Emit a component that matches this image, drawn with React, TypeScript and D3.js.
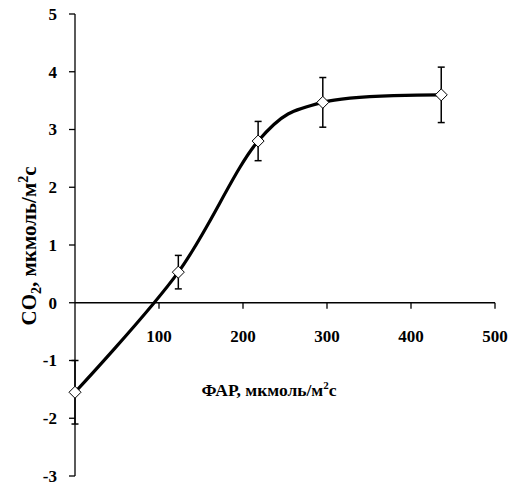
import React from "react";
import * as d3 from "d3";

const parValues = [0, 123, 218, 295, 436];
const co2Values = [-1.55, 0.53, 2.8, 3.47, 3.6];
const errValues = [0.55, 0.29, 0.34, 0.43, 0.48];
const xTicks = [100, 200, 300, 400, 500];
const yTicks = [-3, -2, -1, 0, 1, 2, 3, 4, 5];

const W = 520;
const H = 488;
const FONT = "'Liberation Serif', 'Times New Roman', serif";

export default function App() {
  const x = d3.scaleLinear().domain([0, 500]).range([75, 495]);
  const y = d3.scaleLinear().domain([-3, 5]).range([476, 14]);
  const pts: [number, number][] = parValues.map((v, i) => [x(v), y(co2Values[i])]);
  const line = d3.line().curve(d3.curveCardinal.tension(0));
  const path = line(pts) || "";
  const x0 = x(0);
  const y0 = y(0);
  const dm = 6;
  return (
    <svg
      width={W}
      height={H}
      style={{ position: "absolute", left: 0, top: 0, background: "#fff" }}
      fontFamily={FONT}
      fontWeight="bold"
    >
      <rect x={0} y={0} width={W} height={H} fill="#fff" />
      {/* y axis */}
      <line x1={x0} x2={x0} y1={y(5)} y2={y(-3)} stroke="#000" strokeWidth={1.3} />
      {yTicks.map((t) => (
        <g key={"yt" + t}>
          <line x1={x0 - 6} x2={x0} y1={y(t)} y2={y(t)} stroke="#000" strokeWidth={1.3} />
          <text x={57} y={y(t)} dy="0.35em" textAnchor="end" fontSize={17}>
            {t < 0 ? "-" + Math.abs(t) : String(t)}
          </text>
        </g>
      ))}
      {/* x axis */}
      <line x1={x0} x2={x(500)} y1={y0} y2={y0} stroke="#000" strokeWidth={1.3} />
      {xTicks.map((t) => (
        <g key={"xt" + t}>
          <line x1={x(t)} x2={x(t)} y1={y0} y2={y0 + 6} stroke="#000" strokeWidth={1.3} />
          <text x={x(t)} y={y0 + 39} textAnchor="middle" fontSize={17}>
            {t}
          </text>
        </g>
      ))}
      {/* curve */}
      <path d={path} fill="none" stroke="#000" strokeWidth={3.2} />
      {/* error bars */}
      {parValues.map((v, i) => {
        const cx = x(v);
        const top = y(co2Values[i] + errValues[i]);
        const bot = y(co2Values[i] - errValues[i]);
        return (
          <g key={"eb" + i} stroke="#000" strokeWidth={1.5}>
            <line x1={cx} x2={cx} y1={top} y2={bot} />
            <line x1={cx - 3.5} x2={cx + 3.5} y1={top} y2={top} />
            <line x1={cx - 3.5} x2={cx + 3.5} y1={bot} y2={bot} />
          </g>
        );
      })}
      {/* markers */}
      {pts.map(([px, py], i) => (
        <path
          key={"m" + i}
          d={`M${px},${py - dm}L${px + dm},${py}L${px},${py + dm}L${px - dm},${py}Z`}
          fill="#fff"
          stroke="#000"
          strokeWidth={1}
        />
      ))}
      {/* axis titles */}
      <text x={269} y={396} textAnchor="middle" fontSize={17.5}>
        ФАР, мкмоль/м
        <tspan fontSize={11} dy={-7}>2</tspan>
        <tspan dy={7}>с</tspan>
      </text>
      <text transform="translate(36,246) rotate(-90)" textAnchor="middle" fontSize={21}>
        CO
        <tspan fontSize={14} dy={5}>2</tspan>
        <tspan dy={-5}>, мкмоль/м</tspan>
        <tspan fontSize={14} dy={-8}>2</tspan>
        <tspan dy={8}>с</tspan>
      </text>
    </svg>
  );
}
